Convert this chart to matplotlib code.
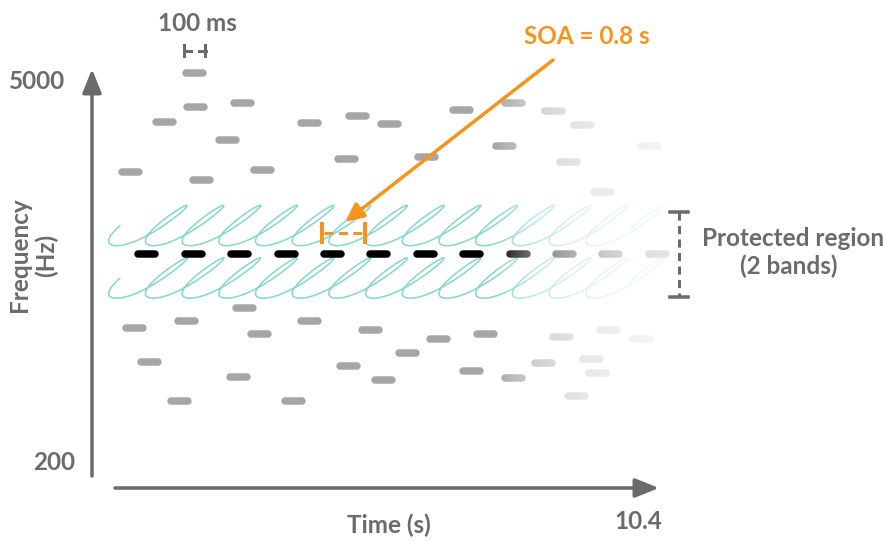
import numpy as np
import matplotlib.pyplot as plt

# diagram units: 1 unit = 1 pixel of the 887x541 canvas, y grows downwards
# distractor tones (centre x, centre y)
upper_x = [195, 196, 243, 165, 228, 310, 358, 390, 347, 131, 202, 263,
           462, 514, 554, 583, 427, 505, 569, 603, 650]
upper_y = [73, 107, 103, 122, 140, 123, 116, 124, 159, 172, 180, 170,
           110, 103, 111, 125, 157, 146, 162, 192, 146]
lower_x = [245, 187, 135, 260, 310, 371, 150, 239, 349, 384, 180, 294,
           439, 486, 408, 472, 514, 562, 609, 642, 544, 592, 598, 577]
lower_y = [308, 321, 328, 334, 321, 330, 362, 377, 366, 380, 401, 401,
           339, 334, 353, 371, 378, 337, 330, 339, 363, 359, 373, 396]

# target tones: 12 tones, SOA = 0.8 s drawn as 46.4 units
n_targets = 12
target_x0 = 147
soa_units = 46.4
target_y = 254

band_centres = [225.5, 278]   # the two protected bands

GRAY = '#6b6b6b'
TONE = '#a6a6a6'
ORANGE = '#f7941d'
CYAN = '#8ad6d1'
plt.rcParams['font.family'] = ['Lato', 'DejaVu Sans']

fig = plt.figure(figsize=(8.87, 5.41), dpi=100)
ax = fig.add_axes([0, 0, 1, 1])
ax.axis('off')

px = 0.72  # points per pixel


def tone(x, y, color, z=3):
    ax.plot([x - 8.5, x + 8.5], [y, y], lw=7.5 * px, color=color,
            solid_capstyle='round', zorder=z)


for x, y in zip(upper_x + lower_x, upper_y + lower_y):
    tone(x, y, TONE)

for k in range(n_targets):
    tone(target_x0 + k * soa_units, target_y, 'black', z=4)

# hatched protected bands: thin slanted loops, the shift to the next loop
# happens mostly around the lower-left turn
a, b, th, d, kap = 34, 3.5, np.deg2rad(36), 36.7, 1.5
t = np.linspace(0.55 * np.pi, 14.3 * 2 * np.pi, 8000)
w = np.exp(-kap * np.cos(t))
g = np.concatenate([[0], np.cumsum((w[1:] + w[:-1]) / 2 * np.diff(t))])
tt = np.linspace(0, 2 * np.pi, 2000)
per = np.trapezoid(np.exp(-kap * np.cos(tt)), tt)
g = g * d / per
for yc in band_centres:
    xs = 126 + g + a * np.cos(th) * np.cos(t) - b * np.sin(th) * np.sin(t)
    ys = yc - (a * np.sin(th) * np.cos(t) + b * np.cos(th) * np.sin(t))
    ax.plot(xs, ys, color=CYAN, lw=1.6 * px, zorder=2)

# white fade on the right
gx = np.linspace(480, 720, 300)
alpha = np.clip(0.95 * (1 - np.exp(-(gx - 495) / 60)), 0, 1)
grad = np.ones((1, len(gx), 4))
grad[0, :, 3] = alpha
ax.imshow(grad, extent=[480, 720, 425, 50], aspect='auto',
          interpolation='bilinear', zorder=5)

# axes arrows
ax.annotate('', xy=(92, 69), xytext=(92, 476),
            arrowprops=dict(arrowstyle='-|>,head_length=0.8,head_width=0.32',
                            color=GRAY, lw=3.5 * px, mutation_scale=18,
                            shrinkA=0, shrinkB=0), zorder=6)
ax.annotate('', xy=(659, 488), xytext=(115, 488),
            arrowprops=dict(arrowstyle='-|>,head_length=0.8,head_width=0.32',
                            color=GRAY, lw=3.5 * px, mutation_scale=18,
                            shrinkA=0, shrinkB=0), zorder=6)

# SOA arrow and bracket
ax.annotate('', xy=(345, 222), xytext=(553, 60),
            arrowprops=dict(arrowstyle='-|>,head_length=0.75,head_width=0.35',
                            color=ORANGE, lw=3.5 * px, mutation_scale=15,
                            shrinkA=0, shrinkB=0), zorder=7)
for xv in (322, 365):
    ax.plot([xv, xv], [224, 242], color=ORANGE, lw=4 * px, zorder=7)
ax.plot([324, 363], [233, 233], color=ORANGE, lw=3 * px,
        ls=(0, (3, 1.8)), zorder=7)

# 100 ms bracket
for xv in (184.5, 205.5):
    ax.plot([xv, xv], [45, 56], color=GRAY, lw=3 * px, zorder=7)
ax.plot([184, 191], [50.5, 50.5], color=GRAY, lw=3 * px, zorder=7)
ax.plot([199, 206], [50.5, 50.5], color=GRAY, lw=3 * px, zorder=7)

# protected region bracket
ax.plot([679, 679], [212, 297], color=GRAY, lw=3 * px,
        ls=(0, (2.7, 1.8)), zorder=7)
for yv in (212, 297):
    ax.plot([670, 688], [yv, yv], color=GRAY, lw=3.5 * px, zorder=7)

# texts
fs = 17.5
tk = dict(color=GRAY, fontsize=fs, fontweight='bold', zorder=8)
ax.text(197, 31, '100 ms', ha='center', va='baseline', **tk)
ax.text(37, 89, '5000', ha='center', va='baseline', **tk)
ax.text(54, 470, '200', ha='center', va='baseline', **tk)
ax.text(20, 255, 'Frequency', ha='center', va='center', rotation=90, **tk)
ax.text(46, 255, '(Hz)', ha='center', va='center', rotation=90, **tk)
ax.text(389, 533, 'Time (s)', ha='center', va='baseline', **tk)
ax.text(638, 529, '10.4', ha='center', va='baseline', **tk)
ax.text(793, 246.5, 'Protected region', ha='center', va='baseline', **tk)
ax.text(789, 274, '(2 bands)', ha='center', va='baseline', **tk)
ax.text(587, 44, 'SOA = 0.8 s', ha='center', va='baseline', color=ORANGE,
        fontsize=fs, fontweight='bold', zorder=8)

ax.set_xlim(0, 887)
ax.set_ylim(541, 0)
fig.savefig('out.png', dpi=100, facecolor='w')
